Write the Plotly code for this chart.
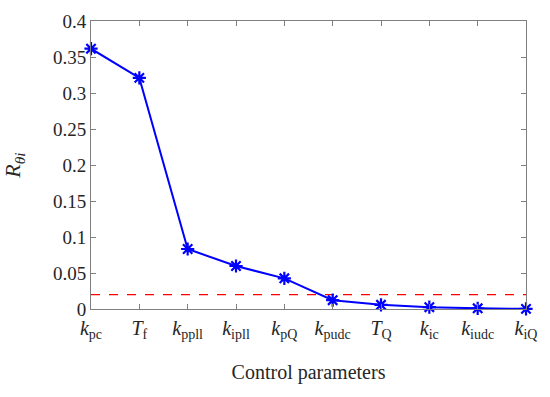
import plotly.graph_objects as go

categories = ["<i>k</i><sub>pc</sub>", "<i>T</i><sub>f</sub>", "<i>k</i><sub>ppll</sub>",
              "<i>k</i><sub>ipll</sub>", "<i>k</i><sub>pQ</sub>", "<i>k</i><sub>pudc</sub>",
              "<i>T</i><sub>Q</sub>", "<i>k</i><sub>ic</sub>", "<i>k</i><sub>iudc</sub>",
              "<i>k</i><sub>iQ</sub>"]
values = [0.3615, 0.321, 0.0833, 0.0597, 0.0426, 0.0122, 0.0058, 0.0025, 0.0010, 0.0002]
threshold = 0.02
y_ticks = [0, 0.05, 0.1, 0.15, 0.2, 0.25, 0.3, 0.35, 0.4]
y_ticktext = ["0", "0.05", "0.1", "0.15", "0.2", "0.25", "0.3", "0.35", "0.4"]

xs = list(range(len(categories)))
font = "Liberation Serif, DejaVu Serif, serif"
txt = "#262626"

fig = go.Figure()
fig.add_trace(go.Scatter(x=[xs[0], xs[-1]], y=[threshold, threshold], mode="lines",
                         line=dict(color="red", width=1.3, dash="dash"), showlegend=False))
fig.add_trace(go.Scatter(x=xs, y=values, mode="lines+markers",
                         line=dict(color="#0000ff", width=2),
                         marker=dict(symbol="asterisk-open", size=11, color="#0000ff",
                                     line=dict(color="#0000ff", width=2.2)),
                         showlegend=False, cliponaxis=False))

axis_common = dict(showline=True, linecolor="#7f7f7f", linewidth=1, mirror="ticks",
                   ticks="inside", ticklen=5, tickcolor="#7f7f7f", showgrid=False,
                   zeroline=False)

fig.update_xaxes(range=[0, 9], tickmode="array", tickvals=xs, ticktext=categories,
                 tickfont=dict(family=font, size=20, color=txt), ticklabelstandoff=1,
                 title=dict(text="Control parameters", font=dict(family=font, size=20, color=txt),
                            standoff=23),
                 **axis_common)
fig.update_yaxes(range=[0, 0.4], tickmode="array", tickvals=y_ticks, ticktext=y_ticktext,
                 tickfont=dict(family=font, size=19, color=txt),
                 title=dict(text="<i>R</i><sub><i>θi</i></sub>", font=dict(family=font, size=22, color=txt),
                            standoff=26),
                 **axis_common)

fig.update_layout(width=550, height=397, margin=dict(l=91, r=24, t=21, b=88),
                  plot_bgcolor="white", paper_bgcolor="white")
fig.write_html("out.html", config={"displayModeBar": False},
               post_script="document.body.style.margin='0';")
